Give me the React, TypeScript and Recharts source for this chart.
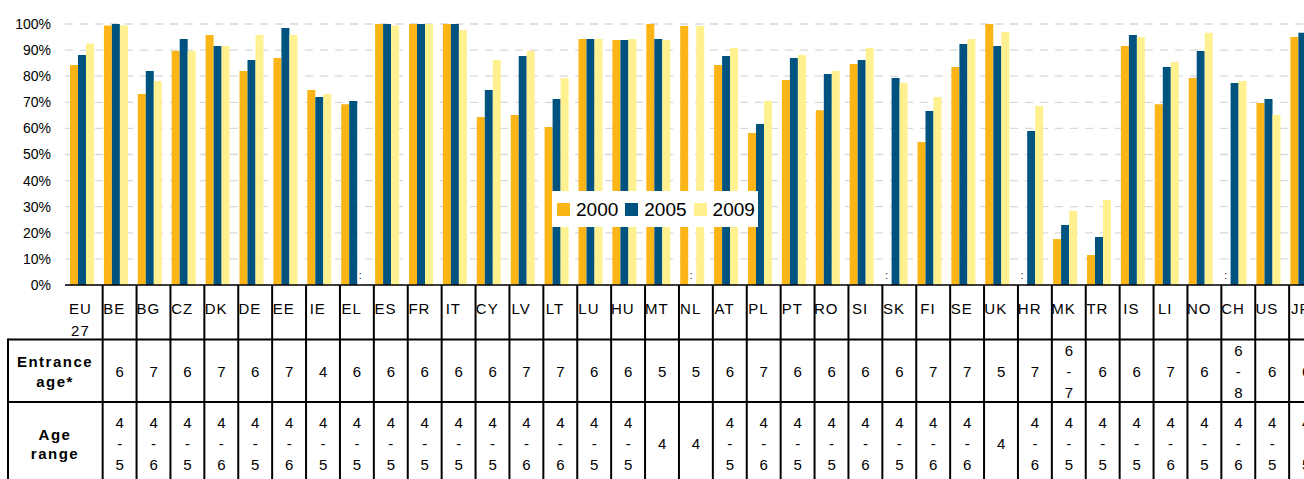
import { BarChart, Bar, XAxis, YAxis, CartesianGrid, Legend } from 'recharts'

const FONT = '"Liberation Sans", Arial, sans-serif'

const categories = [
  'EU27', 'BE', 'BG', 'CZ', 'DK', 'DE', 'EE', 'IE', 'EL', 'ES', 'FR', 'IT', 'CY', 'LV', 'LT', 'LU', 'HU', 'MT', 'NL',
  'AT', 'PL', 'PT', 'RO', 'SI', 'SK', 'FI', 'SE', 'UK', 'HR', 'MK', 'TR', 'IS', 'LI', 'NO', 'CH', 'US', 'JP',
]

// participation rates in %, null = not available (":")
const values2000 = [
  84.3, 99.4, 73.2, 89.7, 95.8, 82.0, 87.0, 74.7, 69.3, 100, 100, 100, 64.4, 65.1, 60.5, 94.3, 93.9, 100, 99.2,
  84.3, 58.2, 78.5, 67.0, 84.7, null, 54.8, 83.5, 100, null, 17.6, 11.5, 91.6, 69.3, 79.3, null, 69.7, 95.0,
]
const values2005 = [
  88.1, 100, 82.0, 94.3, 91.6, 86.2, 98.5, 72.0, 70.5, 100, 100, 100, 74.7, 87.7, 71.3, 94.3, 93.9, 94.3, null,
  87.7, 61.7, 87.0, 80.8, 86.2, 79.3, 66.7, 92.3, 91.6, 59.0, 23.0, 18.4, 95.8, 83.5, 89.7, 77.4, 71.3, 96.6,
]
const values2009 = [
  92.5, 99.4, 78.2, 89.7, 91.6, 95.8, 95.8, 73.2, null, 99.4, 100, 97.7, 86.2, 89.7, 79.3, 94.3, 94.3, 93.9, 99.2,
  90.8, 70.5, 88.1, 82.0, 90.8, 77.4, 72.0, 94.3, 96.9, 68.6, 28.4, 32.6, 95.0, 85.4, 96.6, 78.2, 65.1, 97.5,
]

// table rows under the chart (EU27 column is covered by the row headers)
const entranceAge = [
  null, '6', '7', '6', '7', '6', '7', '4', '6', '6', '6', '6', '6', '7', '7', '6', '6', '5', '5',
  '6', '7', '6', '6', '6', '6', '7', '7', '5', '7', '6-7', '6', '6', '7', '6', '6-8', '6', '6',
]
const ageRange = [
  null, '4-5', '4-6', '4-5', '4-6', '4-5', '4-6', '4-5', '4-5', '4-5', '4-5', '4-5', '4-5', '4-6', '4-6', '4-5', '4-5', '4', '4',
  '4-5', '4-6', '4-5', '4-5', '4-6', '4-5', '4-6', '4-6', '4', '4-6', '4-5', '4-5', '4-5', '4-6', '4-5', '4-6', '4-5', '4-5',
]

const yTicks = [0, 10, 20, 30, 40, 50, 60, 70, 80, 90, 100]

const series = [
  { key: 'y2000', label: '2000', color: '#FBB517', values: values2000 },
  { key: 'y2005', label: '2005', color: '#00537F', values: values2005 },
  { key: 'y2009', label: '2009', color: '#FFF18F', values: values2009 },
]

const data = categories.map((country, i) => ({
  country,
  y2000: values2000[i],
  y2005: values2005[i],
  y2009: values2009[i],
}))

function Cell({ value, x, y }: { value: string | null; x: number; y: number }) {
  if (!value) return null
  const parts = value.split('-')
  const lines = parts.length === 2 ? [parts[0], '-', parts[1]] : [value]
  const start = y - ((lines.length - 1) * 21) / 2
  return (
    <g>
      {lines.map((t, k) => (
        <text key={k} x={x} y={start + k * 21} textAnchor="middle" fontSize={15} fontFamily={FONT} fill="#000">
          {t}
        </text>
      ))}
    </g>
  )
}

function TableTick(props: any) {
  const { x, y, payload } = props
  const i = categories.indexOf(payload.value)
  const lineX = x - 13.2
  const cellX = lineX + 17
  const name = payload.value === 'EU27' ? ['EU', '27'] : [payload.value]
  return (
    <g>
      {i > 0 && <line x1={lineX} x2={lineX} y1={y} y2={y + 210} stroke="#000" strokeWidth={2} />}
      {i === 0 && (
        <g>
          <line x1={8} x2={1340} y1={y + 54.5} y2={y + 54.5} stroke="#000" strokeWidth={2} />
          <line x1={8} x2={1340} y1={y + 117} y2={y + 117} stroke="#000" strokeWidth={2} />
          <line x1={8} x2={8} y1={y + 53.5} y2={y + 210} stroke="#000" strokeWidth={2} />
          <text x={55} textAnchor="middle" fontSize={15} fontWeight="bold" letterSpacing={1.5} fontFamily={FONT} fill="#000">
            <tspan x={55} y={y + 82}>Entrance</tspan>
            <tspan x={55} y={y + 102}>age*</tspan>
          </text>
          <text x={55} textAnchor="middle" fontSize={15} fontWeight="bold" letterSpacing={1.5} fontFamily={FONT} fill="#000">
            <tspan x={55} y={y + 155}>Age</tspan>
            <tspan x={55} y={y + 174}>range</tspan>
          </text>
        </g>
      )}
      {name.map((t: string, k: number) => (
        <text key={k} x={x - 1.5} y={y + 29 + k * 22} textAnchor="middle" fontSize={15} letterSpacing={1} fontFamily={FONT} fill="#000">
          {t}
        </text>
      ))}
      {i > 0 && <Cell value={entranceAge[i]} x={cellX} y={y + 91.5} />}
      {i > 0 && <Cell value={ageRange[i]} x={cellX} y={y + 164} />}
      {series.map((s, k) =>
        s.values[i] == null ? (
          <text key={s.key} x={x - 1 + (k - 1) * 8} y={y - 6} textAnchor="middle" fontSize={10} fontFamily={FONT} fill="#000">
            :
          </text>
        ) : null
      )}
    </g>
  )
}

function LegendBox() {
  return (
    <div
      style={{
        display: 'flex',
        alignItems: 'center',
        background: '#fff',
        height: 36,
        paddingLeft: 5,
        boxSizing: 'border-box',
        fontFamily: FONT,
        fontSize: 19,
        color: '#000',
      }}
    >
      {series.map((s) => (
        <div key={s.key} style={{ display: 'flex', alignItems: 'center', marginRight: 7 }}>
          <span style={{ display: 'inline-block', width: 13, height: 13, background: s.color, marginRight: 6 }} />
          <span style={{ lineHeight: '19px' }}>{s.label}</span>
        </div>
      ))}
    </div>
  )
}

export default function App() {
  return (
    <div style={{ position: 'fixed', left: 0, top: 0, width: 1304, height: 479, overflow: 'hidden', background: '#fff' }}>
      <BarChart
        width={1340}
        height={479}
        data={data}
        margin={{ top: 24, right: 20.7, bottom: 0, left: 0 }}
        barGap={0}
        barSize={8}
      >
        <CartesianGrid vertical={false} stroke="#d9d9d9" strokeDasharray="8 7" strokeWidth={1.3} />
        <XAxis
          dataKey="country"
          interval={0}
          height={194}
          tickLine={false}
          tickSize={0}
          tickMargin={0}
          axisLine={{ stroke: '#000', strokeWidth: 1.5 }}
          tick={<TableTick />}
        />
        <YAxis
          width={65}
          domain={[0, 100]}
          ticks={yTicks}
          tickFormatter={(v) => `${v}%`}
          axisLine={false}
          tickLine={false}
          tickMargin={8}
          tick={{ fill: '#000', fontSize: 14, fontFamily: FONT }}
        />
        <Legend
          layout="horizontal"
          verticalAlign="middle"
          align="center"
          wrapperStyle={{ left: 552, top: 191, width: 206, height: 36 }}
          content={() => <LegendBox />}
        />
        {series.map((s) => (
          <Bar key={s.key} dataKey={s.key} name={s.label} fill={s.color} isAnimationActive={false} />
        ))}
      </BarChart>
    </div>
  )
}
